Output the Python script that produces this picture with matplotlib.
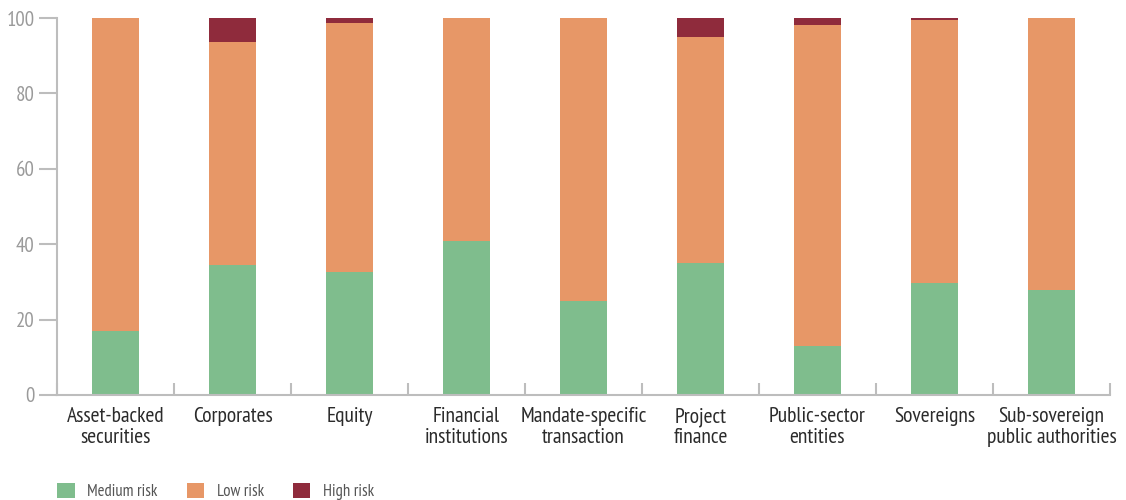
import matplotlib
matplotlib.use("Agg")
import matplotlib.pyplot as plt
from matplotlib.patches import Patch
from matplotlib import font_manager as fm
import numpy as np

categories = ["Asset-backed\nsecurities", "Corporates", "Equity", "Financial\ninstitutions",
              "Mandate-specific\ntransaction", "Project\nfinance", "Public-sector\nentities",
              "Sovereigns", "Sub-sovereign\npublic authorities"]
medium_risk = [17.0, 34.6, 32.5, 40.8, 24.9, 35.1, 13.1, 29.7, 27.9]
low_risk = [83.0, 59.0, 66.3, 59.2, 75.1, 59.9, 85.0, 69.8, 72.1]
high_risk = [0.0, 6.4, 1.2, 0.0, 0.0, 5.0, 1.9, 0.5, 0.0]
series_names = ["Medium risk", "Low risk", "High risk"]
yticks = [0, 20, 40, 60, 80, 100]

colors = ["#7fbd8d", "#e79767", "#8f2b3c"]

available = {f.name for f in fm.fontManager.ttflist}
candidates = ["PT Sans Narrow", "Fira Sans Condensed", "Roboto Condensed", "Archivo Narrow",
              "Open Sans Condensed", "Liberation Sans Narrow", "Encode Sans Condensed",
              "Asap Condensed", "IBM Plex Sans Condensed"]
chosen = next((c for c in candidates if c in available), None)
if chosen:
    plt.rcParams['font.family'] = [chosen, 'DejaVu Sans']
    stretch = 'normal'
else:
    plt.rcParams['font.family'] = ['Open Sans', 'DejaVu Sans']
    stretch = 'condensed'
plt.rcParams['font.stretch'] = stretch

fig = plt.figure(figsize=(11.26, 5), dpi=100)
ax = fig.add_axes([57/1126, 105/500, (1110-57)/1126, 377/500])

x = np.arange(len(categories))
w = 0.4
med = np.array(medium_risk)
low = np.array(low_risk)
high = np.array(high_risk)
ax.bar(x, med, w, color=colors[0], linewidth=0)
ax.bar(x, low, w, bottom=med, color=colors[1], linewidth=0)
ax.bar(x, high, w, bottom=med + low, color=colors[2], linewidth=0)

ax.set_xlim(-0.5, len(categories) - 0.5)
ax.set_ylim(0, 100)
ax.set_yticks(yticks)
ax.set_yticklabels([str(v) for v in yticks])
ax.set_xticks(x)
ax.set_xticklabels(categories, fontsize=15.5, color="#2b2b2b", linespacing=1.08)
ax.set_xticks(np.arange(len(categories) + 1) - 0.5, minor=True)
ax.tick_params(axis='x', which='major', length=0, pad=9)
ax.tick_params(axis='x', which='minor', length=9, direction='in', color="#bdbdbd", width=1.5)
ax.tick_params(axis='y', length=13, color="#bdbdbd", width=1.5, labelsize=15, labelcolor="#9a9a9a", pad=3)

for s in ["top", "right"]:
    ax.spines[s].set_visible(False)
for s in ["left", "bottom"]:
    ax.spines[s].set_color("#bdbdbd")
    ax.spines[s].set_linewidth(1.5)

handles = [Patch(facecolor=c, edgecolor='none') for c in colors]
fig.legend(handles, series_names, loc="lower left", bbox_to_anchor=(42/1126, -0.03), ncol=3,
           frameon=False, fontsize=12, handlelength=1.05, handleheight=1.05,
           handletextpad=0.75, columnspacing=1.75, labelcolor="#555555")

fig.savefig("out.png", dpi=100)
